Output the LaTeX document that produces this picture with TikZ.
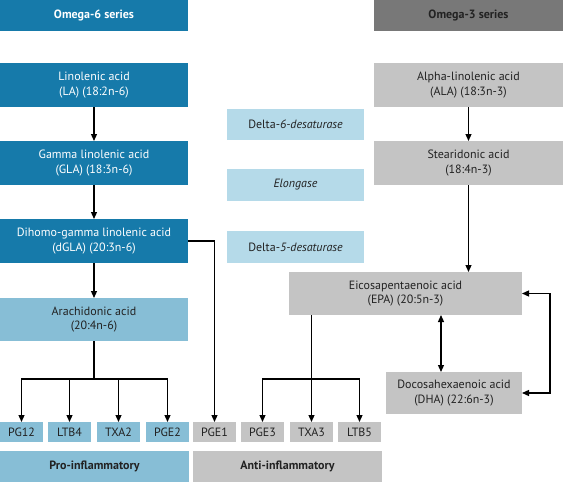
\documentclass[tikz,border=0pt]{standalone}
\usepackage{fontspec}
\setmainfont{PT Sans}
\usetikzlibrary{arrows.meta}
\definecolor{omgblue}{RGB}{22,122,170}
\definecolor{lightblue}{RGB}{135,190,214}
\definecolor{enzblue}{RGB}{181,218,233}
\definecolor{lightgrey}{RGB}{196,196,196}
\definecolor{darkgrey}{RGB}{120,120,120}
\definecolor{txt}{RGB}{34,34,34}
\tikzset{
  box/.style={anchor=north west, inner sep=0pt, outer sep=0pt, align=center,
    text=txt, font=\fontsize{12}{14.5}\selectfont},
  acid/.style={box, minimum width=188pt, minimum height=44pt},
  enzyme/.style={box, fill=enzblue, minimum width=137pt, minimum height=32pt},
  small/.style={box, minimum width=43pt, minimum height=20pt},
  group/.style={box, minimum width=189pt, minimum height=31pt, font=\fontsize{12}{14.5}\selectfont\bfseries},
  flow/.style={line width=1.2pt, -{Triangle[length=7pt,width=6pt]}}
}
\begin{document}
\begin{tikzpicture}[x=1pt, y=-1pt]
  \useasboundingbox (0,0) rectangle (563,482);
  % series headers
  \node[group, fill=omgblue, text=white, minimum width=188pt] (omega6) at (0,0) {Omega-6 series};
  \node[group, fill=darkgrey] (omega3) at (374,0) {Omega-3 series};

  % omega-6 column
  \node[acid, fill=omgblue, text=white] (la) at (0,63) {Linolenic acid\\(LA) (18:2n-6)};
  \node[acid, fill=omgblue, text=white] (gla) at (0,141) {Gamma linolenic acid\\(GLA) (18:3n-6)};
  \node[acid, fill=omgblue, text=white] (dgla) at (0,219) {Dihomo-gamma linolenic acid\\(dGLA) (20:3n-6)};
  \node[acid, fill=lightblue, minimum height=43pt] (aa) at (0,298) {Arachidonic acid\\(20:4n-6)};

  % enzymes
  \node[enzyme, minimum height=31pt] (d6) at (227,109) {Delta-\textit{6-desaturase}};
  \node[enzyme] (elo) at (227,169) {\textit{Elongase}};
  \node[enzyme] (d5) at (227,231) {Delta-\textit{5-desaturase}};

  % omega-3 column
  \node[acid, fill=lightgrey, minimum width=189pt] (ala) at (374,63) {Alpha-linolenic acid\\(ALA) (18:3n-3)};
  \node[acid, fill=lightgrey, minimum width=189pt] (sda) at (374,141) {Stearidonic acid\\(18:4n-3)};
  \node[acid, fill=lightgrey, minimum width=233pt, minimum height=43pt] (epa) at (289,272) {Eicosapentaenoic acid\\(EPA) (20:5n-3)};
  \node[acid, fill=lightgrey, minimum width=136pt, minimum height=42pt] (dha) at (386,372) {Docosahexaenoic acid\\(DHA) (22:6n-3)};

  % eicosanoids
  \node[small, fill=lightblue] (pg12) at (0,422) {PG12};
  \node[small, fill=lightblue] (ltb4) at (48,422) {LTB4};
  \node[small, fill=lightblue] (txa2) at (97,422) {TXA2};
  \node[small, fill=lightblue] (pge2) at (146,422) {PGE2};
  \node[small, fill=lightgrey] (pge1) at (193,422) {PGE1};
  \node[small, fill=lightgrey] (pge3) at (241,422) {PGE3};
  \node[small, fill=lightgrey] (txa3) at (290,422) {TXA3};
  \node[small, fill=lightgrey] (ltb5) at (338,422) {LTB5};

  % effect groups
  \node[group, fill=lightblue] (pro) at (0,451) {Pro-inflammatory};
  \node[group, fill=lightgrey] (anti) at (193,451) {Anti-inflammatory};

  % conversions
  \draw[flow] (la) -- (gla);
  \draw[flow] (gla) -- (dgla);
  \draw[flow] (dgla) -- (aa);
  \draw[flow] (ala) -- (sda);
  \draw[flow] (sda) -- (sda |- epa.north);
  \coordinate (link) at (441,0);
  \draw[flow, {Triangle[length=7pt,width=6pt]}-{Triangle[length=7pt,width=6pt]}] (epa.south -| link) -- (dha.north -| link);
  \draw[flow, {Triangle[length=7pt,width=6pt]}-{Triangle[length=7pt,width=6pt]}] (epa.east) -- ++(28,0) |- (dha.east);

  % eicosanoid branches
  \draw[flow] (dgla.east) -| (pge1);
  \path (aa.south) ++(0,38) coordinate (aafork);
  \draw[line width=1.2pt] (aa) -- (aafork);
  \foreach \n in {pg12,ltb4,txa2,pge2} \draw[flow] (aafork) -| (\n);
  \path (epa.south -| txa3) ++(0,64) coordinate (epafork);
  \draw[line width=1.2pt] (epa.south -| txa3) -- (epafork);
  \foreach \n in {pge3,txa3,ltb5} \draw[flow] (epafork) -| (\n);
\end{tikzpicture}
\end{document}
